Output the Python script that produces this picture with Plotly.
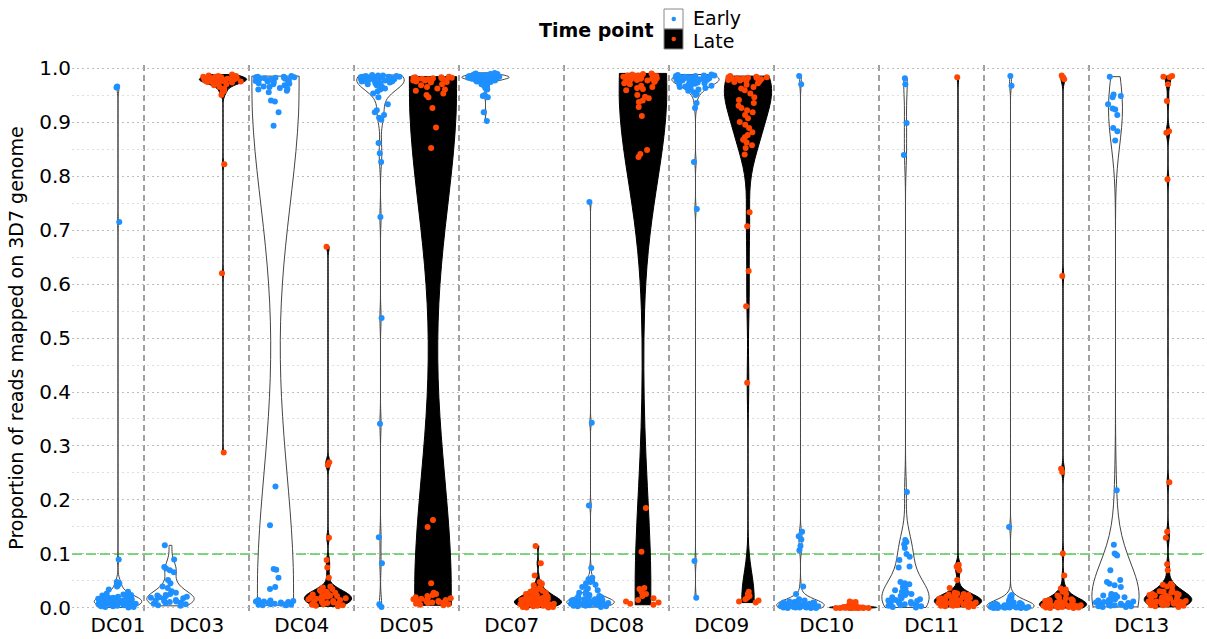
import plotly.graph_objects as go

categories = ["DC01", "DC03", "DC04", "DC05", "DC07", "DC08", "DC09", "DC10", "DC11", "DC12", "DC13"]
time_points = ["Early", "Late"]

dc01_early = [0.966, 0.964, 0.715, 0.090, 0.048, 0.046, 0.045, 0.043, 0.040, 0.034, 0.030, 0.027, 0.025, 0.024,
              0.023, 0.022, 0.021, 0.020, 0.020, 0.019, 0.019, 0.018, 0.018, 0.017, 0.017, 0.016, 0.016, 0.016,
              0.015, 0.015, 0.015, 0.014, 0.014, 0.014, 0.013, 0.013, 0.013, 0.012, 0.012, 0.012, 0.011, 0.011,
              0.011, 0.010, 0.010, 0.010, 0.009, 0.009, 0.009, 0.008, 0.008, 0.008, 0.007, 0.007, 0.007, 0.006,
              0.006, 0.006, 0.005, 0.005, 0.004, 0.004, 0.003, 0.003, 0.002, 0.002, 0.001]
dc03_early = [0.116, 0.090, 0.076, 0.073, 0.070, 0.066, 0.052, 0.046, 0.040, 0.037, 0.031, 0.028, 0.026, 0.024,
              0.023, 0.022, 0.021, 0.020, 0.019, 0.018, 0.017, 0.015, 0.014, 0.013, 0.012, 0.011, 0.010, 0.009,
              0.008, 0.007, 0.005, 0.004]
dc03_late = [0.988, 0.986, 0.985, 0.985, 0.984, 0.984, 0.983, 0.983, 0.982, 0.982, 0.982, 0.981, 0.981, 0.981,
             0.980, 0.980, 0.980, 0.980, 0.979, 0.979, 0.979, 0.979, 0.978, 0.978, 0.978, 0.978, 0.977, 0.977,
             0.977, 0.976, 0.976, 0.976, 0.975, 0.975, 0.974, 0.974, 0.973, 0.972, 0.970, 0.968, 0.965, 0.962,
             0.960, 0.958, 0.955, 0.950, 0.822, 0.620, 0.288]
dc04_early = [0.985, 0.984, 0.984, 0.983, 0.983, 0.982, 0.982, 0.981, 0.980, 0.980, 0.979, 0.978, 0.977, 0.976,
              0.975, 0.974, 0.973, 0.972, 0.971, 0.970, 0.968, 0.966, 0.965, 0.963, 0.961, 0.960, 0.958, 0.955,
              0.940, 0.938, 0.918, 0.893, 0.225, 0.153, 0.072, 0.071, 0.056, 0.039, 0.035, 0.015, 0.014, 0.013,
              0.012, 0.012, 0.011, 0.010, 0.010, 0.009, 0.009, 0.008, 0.008, 0.007, 0.007, 0.006, 0.006, 0.005,
              0.005]
dc04_late = [0.669, 0.270, 0.265, 0.130, 0.089, 0.075, 0.056, 0.040, 0.038, 0.035, 0.033, 0.031, 0.030, 0.028,
             0.027, 0.026, 0.025, 0.024, 0.023, 0.022, 0.021, 0.020, 0.020, 0.019, 0.018, 0.017, 0.016, 0.015,
             0.014, 0.013, 0.012, 0.011, 0.010, 0.009, 0.008, 0.007, 0.006, 0.005, 0.004, 0.003]
dc05_early = [0.987, 0.986, 0.986, 0.985, 0.985, 0.984, 0.984, 0.984, 0.983, 0.983, 0.983, 0.982, 0.982, 0.982,
              0.981, 0.981, 0.981, 0.980, 0.980, 0.980, 0.979, 0.979, 0.979, 0.978, 0.978, 0.978, 0.977, 0.977,
              0.976, 0.976, 0.975, 0.975, 0.974, 0.974, 0.973, 0.972, 0.971, 0.970, 0.968, 0.966, 0.962, 0.960,
              0.957, 0.953, 0.946, 0.933, 0.922, 0.918, 0.913, 0.908, 0.904, 0.861, 0.842, 0.826, 0.724, 0.537,
              0.341, 0.131, 0.083, 0.007, 0.002]
dc05_late = [0.984, 0.983, 0.983, 0.982, 0.982, 0.981, 0.981, 0.980, 0.980, 0.979, 0.979, 0.978, 0.978, 0.977,
             0.977, 0.976, 0.976, 0.975, 0.974, 0.973, 0.970, 0.968, 0.965, 0.962, 0.960, 0.958, 0.953, 0.950,
             0.946, 0.926, 0.890, 0.852, 0.163, 0.150, 0.046, 0.028, 0.026, 0.024, 0.022, 0.020, 0.019, 0.018,
             0.017, 0.016, 0.015, 0.014, 0.013, 0.012, 0.012, 0.011, 0.010, 0.010, 0.009, 0.008, 0.007, 0.006,
             0.005]
dc07_early = [0.991, 0.990, 0.989, 0.989, 0.988, 0.988, 0.987, 0.987, 0.987, 0.986, 0.986, 0.986, 0.985, 0.985,
              0.985, 0.985, 0.984, 0.984, 0.984, 0.984, 0.983, 0.983, 0.983, 0.983, 0.982, 0.982, 0.982, 0.982,
              0.981, 0.981, 0.981, 0.981, 0.980, 0.980, 0.980, 0.979, 0.979, 0.979, 0.978, 0.978, 0.977, 0.977,
              0.976, 0.975, 0.974, 0.973, 0.972, 0.970, 0.968, 0.966, 0.963, 0.960, 0.950, 0.948, 0.946, 0.918,
              0.902]
dc07_late = [0.115, 0.083, 0.060, 0.048, 0.045, 0.042, 0.039, 0.035, 0.033, 0.032, 0.030, 0.029, 0.028, 0.027,
             0.026, 0.025, 0.024, 0.023, 0.022, 0.021, 0.020, 0.020, 0.019, 0.018, 0.018, 0.017, 0.016, 0.016,
             0.015, 0.015, 0.014, 0.014, 0.013, 0.013, 0.012, 0.012, 0.011, 0.011, 0.010, 0.010, 0.009, 0.009,
             0.008, 0.008, 0.007, 0.007, 0.006, 0.006, 0.005, 0.005, 0.004, 0.004, 0.003, 0.003, 0.002, 0.002,
             0.001, 0.001]
dc08_early = [0.752, 0.343, 0.190, 0.074, 0.056, 0.053, 0.050, 0.048, 0.046, 0.043, 0.039, 0.036, 0.033, 0.030,
              0.028, 0.026, 0.024, 0.022, 0.021, 0.020, 0.019, 0.018, 0.017, 0.016, 0.016, 0.015, 0.015, 0.014,
              0.014, 0.013, 0.013, 0.012, 0.012, 0.012, 0.011, 0.011, 0.011, 0.010, 0.010, 0.010, 0.009, 0.009,
              0.009, 0.008, 0.008, 0.008, 0.007, 0.007, 0.007, 0.006, 0.006, 0.005, 0.005, 0.004, 0.004, 0.003,
              0.003, 0.002]
dc08_late = [0.990, 0.989, 0.988, 0.987, 0.986, 0.986, 0.985, 0.985, 0.984, 0.984, 0.983, 0.983, 0.982, 0.981,
             0.980, 0.980, 0.979, 0.978, 0.977, 0.976, 0.975, 0.974, 0.972, 0.970, 0.967, 0.965, 0.963, 0.961,
             0.959, 0.950, 0.947, 0.944, 0.940, 0.937, 0.928, 0.911, 0.848, 0.841, 0.835, 0.185, 0.104, 0.037,
             0.035, 0.030, 0.026, 0.022, 0.018, 0.015, 0.012, 0.010, 0.008, 0.006]
dc09_early = [0.988, 0.987, 0.986, 0.986, 0.985, 0.985, 0.985, 0.984, 0.984, 0.984, 0.983, 0.983, 0.983, 0.983,
              0.982, 0.982, 0.982, 0.981, 0.981, 0.981, 0.980, 0.980, 0.980, 0.979, 0.979, 0.979, 0.978, 0.978,
              0.977, 0.977, 0.976, 0.976, 0.975, 0.975, 0.974, 0.973, 0.972, 0.971, 0.970, 0.969, 0.968, 0.967,
              0.966, 0.965, 0.963, 0.962, 0.960, 0.958, 0.955, 0.953, 0.950, 0.935, 0.926, 0.826, 0.739, 0.087,
              0.019]
dc09_late = [0.985, 0.984, 0.983, 0.983, 0.982, 0.982, 0.981, 0.981, 0.980, 0.980, 0.979, 0.979, 0.978, 0.977,
             0.976, 0.975, 0.974, 0.972, 0.969, 0.965, 0.962, 0.959, 0.953, 0.946, 0.941, 0.935, 0.930, 0.926,
             0.922, 0.918, 0.913, 0.907, 0.900, 0.895, 0.889, 0.881, 0.876, 0.872, 0.867, 0.862, 0.857, 0.852,
             0.840, 0.733, 0.707, 0.624, 0.559, 0.417, 0.030, 0.026, 0.022, 0.019, 0.016, 0.014, 0.012, 0.010]
dc10_early = [0.985, 0.970, 0.141, 0.133, 0.127, 0.115, 0.107, 0.040, 0.026, 0.016, 0.014, 0.013, 0.012, 0.011,
              0.011, 0.010, 0.010, 0.009, 0.009, 0.008, 0.008, 0.008, 0.007, 0.007, 0.007, 0.006, 0.006, 0.006,
              0.006, 0.005, 0.005, 0.005, 0.005, 0.004, 0.004, 0.004, 0.004, 0.004, 0.003, 0.003, 0.003, 0.003,
              0.003, 0.002, 0.002, 0.002, 0.002, 0.002, 0.001, 0.001, 0.001, 0.001, 0.001, 0.000, 0.000, 0.000]
dc10_late = [0.012, 0.011, 0.010, 0.009, 0.008, 0.008, 0.007, 0.006, 0.005, 0.004, 0.004, 0.003, 0.003, 0.003,
             0.003, 0.002, 0.002, 0.002, 0.002, 0.002, 0.002, 0.002, 0.001, 0.001, 0.001, 0.001, 0.001, 0.001,
             0.001, 0.001, 0.001, 0.000, 0.000, 0.000, 0.000, 0.000, 0.000, 0.000, 0.000, 0.000]
dc11_early = [0.981, 0.970, 0.898, 0.839, 0.215, 0.126, 0.122, 0.118, 0.111, 0.100, 0.095, 0.089, 0.077, 0.075,
              0.048, 0.046, 0.044, 0.039, 0.036, 0.033, 0.030, 0.028, 0.026, 0.024, 0.022, 0.020, 0.018, 0.016,
              0.015, 0.014, 0.013, 0.012, 0.011, 0.010, 0.009, 0.008, 0.007, 0.006, 0.005, 0.004, 0.003, 0.002,
              0.001]
dc11_late = [0.983, 0.080, 0.077, 0.074, 0.070, 0.052, 0.037, 0.028, 0.027, 0.026, 0.025, 0.024, 0.023, 0.022,
             0.021, 0.020, 0.020, 0.019, 0.018, 0.018, 0.017, 0.016, 0.016, 0.015, 0.015, 0.014, 0.014, 0.013,
             0.013, 0.012, 0.012, 0.011, 0.011, 0.010, 0.010, 0.009, 0.009, 0.008, 0.008, 0.007, 0.007, 0.006,
             0.006, 0.005, 0.005, 0.004, 0.004, 0.003, 0.003, 0.002]
dc12_early = [0.985, 0.967, 0.150, 0.024, 0.021, 0.018, 0.015, 0.012, 0.010, 0.009, 0.008, 0.007, 0.006, 0.006,
              0.005, 0.005, 0.005, 0.004, 0.004, 0.004, 0.004, 0.003, 0.003, 0.003, 0.003, 0.003, 0.002, 0.002,
              0.002, 0.002, 0.002, 0.002, 0.001, 0.001, 0.001, 0.001, 0.001, 0.001, 0.000, 0.000, 0.000, 0.000]
dc12_late = [0.986, 0.983, 0.979, 0.615, 0.258, 0.252, 0.101, 0.060, 0.036, 0.034, 0.030, 0.026, 0.023, 0.020,
             0.018, 0.016, 0.015, 0.014, 0.013, 0.012, 0.011, 0.010, 0.010, 0.009, 0.009, 0.008, 0.008, 0.007,
             0.007, 0.006, 0.006, 0.005, 0.005, 0.005, 0.004, 0.004, 0.004, 0.003, 0.003, 0.003, 0.002, 0.002,
             0.002, 0.001, 0.001, 0.001, 0.000, 0.000]
dc13_early = [0.984, 0.951, 0.948, 0.946, 0.933, 0.925, 0.923, 0.913, 0.889, 0.883, 0.866, 0.218, 0.117, 0.101,
              0.099, 0.097, 0.070, 0.052, 0.048, 0.045, 0.042, 0.039, 0.026, 0.024, 0.023, 0.022, 0.021, 0.020,
              0.016, 0.015, 0.014, 0.013, 0.012, 0.011, 0.010, 0.009, 0.008, 0.008, 0.007, 0.006, 0.006, 0.005,
              0.004, 0.004, 0.003, 0.003, 0.002, 0.002]
dc13_late = [0.985, 0.984, 0.983, 0.970, 0.939, 0.883, 0.880, 0.794, 0.233, 0.141, 0.130, 0.081, 0.070, 0.045,
             0.043, 0.041, 0.040, 0.033, 0.031, 0.030, 0.028, 0.027, 0.026, 0.025, 0.024, 0.023, 0.022, 0.021,
             0.020, 0.020, 0.019, 0.018, 0.017, 0.016, 0.016, 0.015, 0.014, 0.014, 0.013, 0.012, 0.012, 0.011,
             0.010, 0.010, 0.009, 0.008, 0.008, 0.007, 0.006, 0.005, 0.005, 0.004, 0.003, 0.002]

samples = {
    "DC01": {"Early": dc01_early},
    "DC03": {"Early": dc03_early, "Late": dc03_late},
    "DC04": {"Early": dc04_early, "Late": dc04_late},
    "DC05": {"Early": dc05_early, "Late": dc05_late},
    "DC07": {"Early": dc07_early, "Late": dc07_late},
    "DC08": {"Early": dc08_early, "Late": dc08_late},
    "DC09": {"Early": dc09_early, "Late": dc09_late},
    "DC10": {"Early": dc10_early, "Late": dc10_late},
    "DC11": {"Early": dc11_early, "Late": dc11_late},
    "DC12": {"Early": dc12_early, "Late": dc12_late},
    "DC13": {"Early": dc13_early, "Late": dc13_late},
}

fill_colors = {"Early": "white", "Late": "black"}
line_colors = {"Early": "#444444", "Late": "black"}
point_colors = {"Early": "#1E90FF", "Late": "#FF4500"}

FONT = "DejaVu Sans"
W, H = 1207, 639
ML, MR, MT, MB = 72, 2, 65, 28
PW, PH = W - ML - MR, H - MT - MB

fig = go.Figure()
pos = 0
tick_pos, boundaries = [], []
for ci, cat in enumerate(categories):
    start = pos
    for tp in time_points:
        if tp not in samples[cat]:
            continue
        vals = samples[cat][tp]
        fig.add_trace(go.Violin(
            x=[pos] * len(vals), y=vals, name=tp, legendgroup=tp, showlegend=False,
            fillcolor=fill_colors[tp], line=dict(color=line_colors[tp], width=1),
            marker=dict(color=point_colors[tp], size=6, line=dict(width=0)),
            opacity=1, width=0.9, scalemode="width", spanmode="hard",
            points="all", pointpos=0, jitter=0.85, hoverinfo="y",
        ))
        pos += 1
    tick_pos.append((start + pos - 1) / 2)
    if ci < len(categories) - 1:
        boundaries.append(pos - 0.5)

# threshold line
fig.add_shape(type="line", xref="paper", x0=0, x1=1, yref="y", y0=0.1, y1=0.1,
              line=dict(color="#3ccf3c", width=1.5, dash="10px,4px"), layer="below")


# custom legend (pixel layout converted to paper coordinates)
def px(xp):
    return (xp - ML) / PW


def py(yp):
    return (H - MB - yp) / PH


legend_items = list(zip(time_points, [9, 29], [17.5, 41.5]))
for tp, top, text_y in legend_items:
    fig.add_shape(type="rect", xref="paper", yref="paper",
                  x0=px(664), x1=px(683), y0=py(top + 20), y1=py(top),
                  fillcolor=fill_colors[tp], line=dict(color="#888888", width=1), layer="above")
    fig.add_shape(type="circle", xref="paper", yref="paper",
                  x0=px(671.5), x1=px(676), y0=py(top + 12.3), y1=py(top + 7.8),
                  fillcolor=point_colors[tp], line=dict(width=0), layer="above")
    fig.add_annotation(text=tp, xref="paper", yref="paper", x=px(692), y=py(text_y),
                       xanchor="left", yanchor="middle", showarrow=False,
                       font=dict(size=19, family=FONT, color="black"), borderpad=0)
fig.add_annotation(text="<b>Time point</b>", xref="paper", yref="paper", x=px(656), y=py(30),
                   xanchor="right", yanchor="middle", showarrow=False,
                   font=dict(size=19, family=FONT, color="black"))

fig.update_layout(
    width=W, height=H,
    margin=dict(l=ML, r=MR, t=MT, b=MB, autoexpand=False),
    paper_bgcolor="white", plot_bgcolor="white",
    font=dict(family=FONT, size=20, color="black"),
    violinmode="overlay", showlegend=False,
    xaxis=dict(
        range=[-0.876, pos - 0.295], tickmode="array", tickvals=tick_pos, ticktext=categories,
        showgrid=False, zeroline=False, showline=False, ticks="",
        tickfont=dict(size=20, family=FONT),
        minor=dict(tickmode="array", tickvals=boundaries, showgrid=True, griddash="6px,4px",
                   gridcolor="#a0a0a0", gridwidth=1.5, ticks=""),
    ),
    yaxis=dict(
        range=[-0.0056, 1.0056], tickmode="linear", tick0=0, dtick=0.1, tickformat=".1f",
        showgrid=True, griddash="2px,3px", gridcolor="#bdbdbd", gridwidth=1,
        zeroline=False, showline=False, ticks="",
        tickfont=dict(size=20, family=FONT),
        title=dict(text="Proportion of reads mapped on 3D7 genome", font=dict(size=19, family=FONT), standoff=10),
        minor=dict(dtick=0.05, showgrid=True, griddash="2px,3px", gridcolor="#dedede", gridwidth=1),
    ),
)

fig.write_html("out.html")
